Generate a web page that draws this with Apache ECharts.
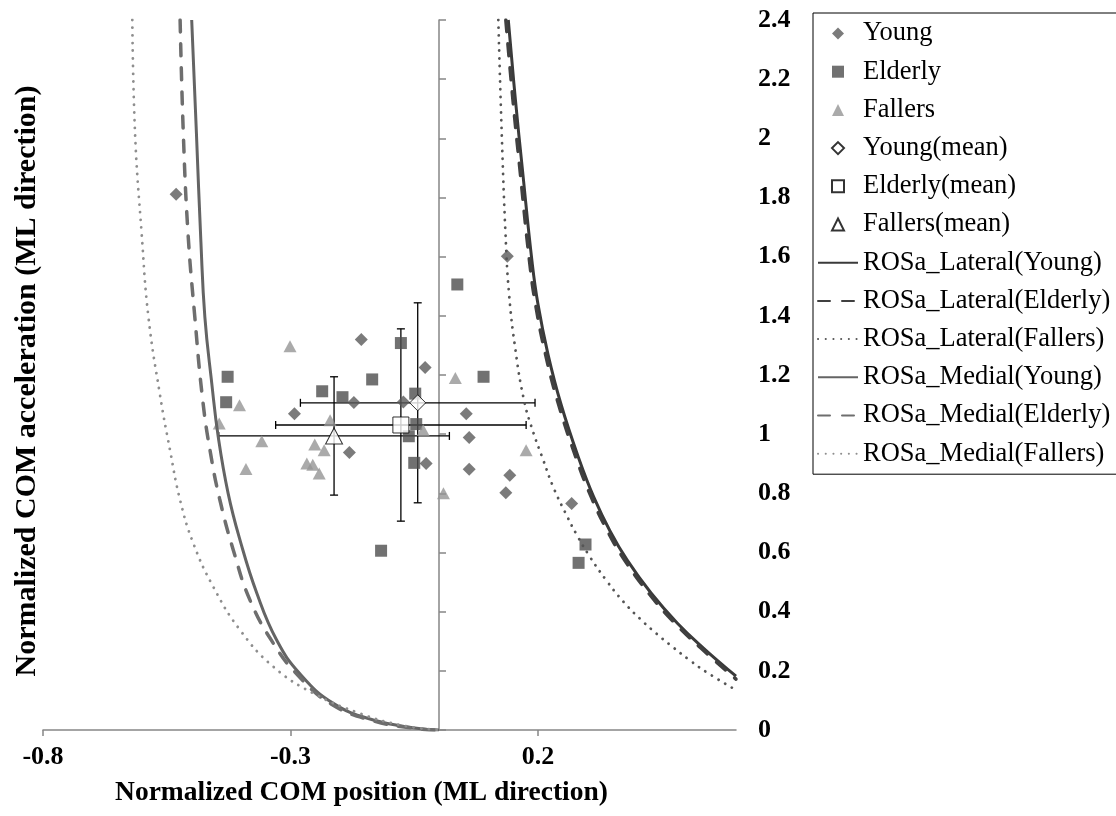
<!DOCTYPE html>
<html>
<head>
<meta charset="utf-8">
<title>ROSa</title>
<script src="https://cdn.jsdelivr.net/npm/echarts@6.0.0/dist/echarts.min.js"></script>
<style>
  html, body { margin: 0; padding: 0; background: #fff; }
  #main { width: 1116px; height: 816px; }
</style>
</head>
<body>
<div id="main"></div>
<script>
// individual subjects
var youngX = [-0.531, -0.157, -0.028, -0.172, -0.072, -0.292, -0.181, -0.026, 0.138, 0.055, 0.061, 0.061, 0.143, 0.135, 0.268];
var youngY = [1.811, 1.320, 1.225, 1.107, 1.109, 1.069, 0.938, 0.901, 1.601, 1.069, 0.989, 0.881, 0.861, 0.802, 0.766];
var elderlyX = [-0.077, -0.427, -0.430, -0.135, -0.236, -0.195, -0.048, -0.046, -0.061, -0.050, -0.117, 0.037, 0.090, 0.296, 0.282];
var elderlyY = [1.308, 1.194, 1.108, 1.185, 1.145, 1.125, 1.137, 1.034, 0.993, 0.903, 0.606, 1.506, 1.194, 0.627, 0.565];
var fallersX = [-0.301, -0.403, -0.444, -0.358, -0.220, -0.251, -0.232, -0.390, -0.267, -0.255, -0.242, -0.032, 0.009, 0.033, 0.176];
var fallersY = [1.297, 1.098, 1.036, 0.976, 1.047, 0.965, 0.946, 0.882, 0.901, 0.897, 0.867, 1.014, 0.800, 1.190, 0.946];

// group means (Young, Elderly, Fallers) and SD
var meanX = [-0.043, -0.077, -0.212];
var meanY = [1.106, 1.031, 0.994];
var sdX = [0.237, 0.253, 0.233];
var sdY = [0.338, 0.325, 0.200];

// ROSa boundaries
var latYoungX = [0.140, 0.1545, 0.1687, 0.1879, 0.200, 0.2202, 0.2465, 0.2828, 0.3127, 0.3457, 0.3802, 0.4283, 0.4816, 0.5341, 0.600];
var latYoungY = [2.40, 2.128, 1.892, 1.584, 1.439, 1.270, 1.101, 0.916, 0.787, 0.672, 0.574, 0.463, 0.361, 0.277, 0.182];
var latElderlyX = [0.135, 0.1495, 0.1637, 0.1829, 0.195, 0.2152, 0.2415, 0.2778, 0.3077, 0.3407, 0.3752, 0.4233, 0.4766, 0.5291, 0.600];
var latElderlyY = [2.40, 2.128, 1.892, 1.584, 1.439, 1.270, 1.101, 0.916, 0.787, 0.672, 0.574, 0.463, 0.361, 0.277, 0.172];
var latFallersX = [0.1198, 0.1267, 0.1343, 0.1414, 0.1545, 0.1717, 0.1889, 0.2107, 0.2309, 0.258, 0.2782, 0.305, 0.3388, 0.3723, 0.4061, 0.4398, 0.4733, 0.5071, 0.5408, 0.600];
var latFallersY = [2.40, 2.017, 1.679, 1.476, 1.284, 1.115, 1.014, 0.912, 0.821, 0.725, 0.660, 0.585, 0.504, 0.434, 0.376, 0.325, 0.279, 0.235, 0.195, 0.135];
var medYoungX = [-0.4996, -0.490, -0.481, -0.473, -0.459, -0.446, -0.426, -0.402, -0.368, -0.328, -0.281, -0.2135, -0.1327, -0.045, 0];
var medYoungY = [2.40, 2.015, 1.65, 1.396, 1.171, 0.991, 0.80, 0.642, 0.462, 0.304, 0.19, 0.09, 0.034, 0.006, 0];
var medElderlyX = [-0.523, -0.5165, -0.507, -0.4935, -0.477, -0.461, -0.443, -0.4155, -0.3818, -0.3347, -0.285, -0.218, -0.135, -0.046, 0];
var medElderlyY = [2.40, 2.015, 1.678, 1.40, 1.11, 0.93, 0.78, 0.608, 0.439, 0.293, 0.185, 0.088, 0.032, 0.005, 0];
var medFallersX = [-0.6196, -0.614, -0.6007, -0.587, -0.5636, -0.5434, -0.523, -0.4963, -0.456, -0.402, -0.3347, -0.254, -0.1596, -0.0788, 0];
var medFallersY = [2.40, 2.015, 1.678, 1.396, 1.132, 0.946, 0.777, 0.631, 0.484, 0.338, 0.214, 0.124, 0.056, 0.017, 0];

var xTicks = [-0.8, -0.3, 0.2];

var serif = '"Liberation Serif", "Times New Roman", serif';
var axisGray = '#868686';

function pairs(xs, ys) {
  return xs.map(function (x, i) { return [x, ys[i]]; });
}

function errorBar(params, api) {
  var x = api.value(0), y = api.value(1), ex = api.value(2), ey = api.value(3);
  var l = api.coord([x - ex, y]), r = api.coord([x + ex, y]);
  var t = api.coord([x, y + ey]), b = api.coord([x, y - ey]);
  var cap = 4;
  var st = { stroke: '#000', lineWidth: 1.3 };
  function seg(x1, y1, x2, y2) {
    return { type: 'line', shape: { x1: x1, y1: y1, x2: x2, y2: y2 }, style: st };
  }
  return {
    type: 'group',
    children: [
      seg(l[0], l[1], r[0], r[1]),
      seg(l[0], l[1] - cap, l[0], l[1] + cap),
      seg(r[0], r[1] - cap, r[0], r[1] + cap),
      seg(t[0], t[1], b[0], b[1]),
      seg(t[0] - cap, t[1], t[0] + cap, t[1]),
      seg(b[0] - cap, b[1], b[0] + cap, b[1])
    ]
  };
}

function curve(name, xs, ys, color, width, type) {
  var ls = { color: color, width: width, type: type };
  if (type === 'dotted') {
    ls.type = [0.1, 7.6];
    ls.cap = 'round';
  } else if (type === 'dashed') {
    ls.type = [12, 12];
    ls.cap = 'round';
  }
  return {
    name: name, type: 'line', data: pairs(xs, ys),
    symbol: 'none', smooth: 0.45, color: color,
    lineStyle: ls
  };
}

// legend: path icons so the marker keeps its shape, line entries show only the line
var diamondIcon = 'path://M5,0L10,5L5,10L0,5Z';
var squareIcon = 'path://M0,0L10,0L10,10L0,10Z';
var triangleIcon = 'path://M5,0L10,10L0,10Z';
var legendData = [
  { name: 'Young', icon: diamondIcon },
  { name: 'Elderly', icon: squareIcon },
  { name: 'Fallers', icon: triangleIcon },
  { name: 'Young(mean)', icon: diamondIcon },
  { name: 'Elderly(mean)', icon: squareIcon },
  { name: 'Fallers(mean)', icon: triangleIcon }
].concat(['ROSa_Lateral(Young)', 'ROSa_Lateral(Elderly)', 'ROSa_Lateral(Fallers)',
  'ROSa_Medial(Young)', 'ROSa_Medial(Elderly)', 'ROSa_Medial(Fallers)'].map(function (n) {
  return { name: n, itemStyle: { opacity: 0, color: 'rgba(0,0,0,0)', borderWidth: 0 } };
}));

var chart = echarts.init(document.getElementById('main'));

var option = {
  animation: false,
  grid: { left: 43, top: 20, width: 693, height: 710, containLabel: false, outerBoundsMode: 'none' },
  legend: {
    orient: 'vertical',
    left: 813, top: 13,
    padding: [7, 12, 7, 4],
    borderColor: '#000', borderWidth: 1,
    itemWidth: 40, itemHeight: 12, itemGap: 11.2,
    symbolKeepAspect: true,
    textStyle: { fontFamily: serif, fontSize: 26.5, color: '#000', lineHeight: 26 },
    data: legendData
  },
  xAxis: {
    type: 'value', min: -0.8, max: 0.6,
    name: 'Normalized COM position (ML direction)',
    nameLocation: 'middle', nameGap: 49,
    nameTextStyle: { fontFamily: serif, fontSize: 27.5, fontWeight: 'bold', color: '#000', padding: [0, 56, 0, 0] },
    axisLine: { onZero: true, lineStyle: { color: axisGray, width: 1.5 } },
    axisTick: { length: 6, customValues: xTicks, lineStyle: { color: axisGray, width: 1.5 } },
    axisLabel: { customValues: xTicks, margin: 14, fontFamily: serif, fontSize: 26, fontWeight: 'bold', color: '#000' },
    splitLine: { show: false }
  },
  yAxis: [{
    type: 'value', min: 0, max: 2.4, interval: 0.2, position: 'left',
    axisLine: { show: true, onZero: true, lineStyle: { color: axisGray, width: 1.5 } },
    axisTick: { show: true, inside: true, length: 7, lineStyle: { color: axisGray, width: 1.5 } },
    axisLabel: { show: false },
    splitLine: { show: false }
  }, {
    type: 'value', min: 0, max: 2.4, interval: 0.2, position: 'right',
    axisLine: { show: false, onZero: false },
    axisTick: { show: false },
    axisLabel: { margin: 22, fontFamily: serif, fontSize: 26, fontWeight: 'bold', color: '#000' },
    splitLine: { show: false }
  }],
  graphic: [{
    type: 'text', x: 27, y: 381, rotation: Math.PI / 2,
    style: {
      text: 'Normalized COM acceleration (ML direction)',
      fontFamily: serif, fontSize: 30, fontWeight: 'bold', fill: '#000',
      align: 'center', verticalAlign: 'middle'
    }
  }],
  series: [
    { name: 'Young', type: 'scatter', symbol: 'diamond', symbolSize: 13, data: pairs(youngX, youngY), itemStyle: { color: '#5a5a5a' } },
    { name: 'Elderly', type: 'scatter', symbol: 'rect', symbolSize: 12, data: pairs(elderlyX, elderlyY), itemStyle: { color: '#4d4d4d' } },
    { name: 'Fallers', type: 'scatter', symbol: 'triangle', symbolSize: [13, 12], data: pairs(fallersX, fallersY), itemStyle: { color: '#959595' } },
    {
      name: 'sd', type: 'custom', renderItem: errorBar, silent: true,
      encode: { x: 0, y: 1 },
      data: meanX.map(function (x, i) { return [x, meanY[i], sdX[i], sdY[i]]; })
    },
    { name: 'Young(mean)', type: 'scatter', symbol: 'diamond', symbolSize: 16, data: [[meanX[0], meanY[0]]], itemStyle: { color: '#fff', borderColor: '#000', borderWidth: 1 } },
    { name: 'Elderly(mean)', type: 'scatter', symbol: 'rect', symbolSize: 16, data: [[meanX[1], meanY[1]]], itemStyle: { color: '#fff', borderColor: '#000', borderWidth: 1 } },
    { name: 'Fallers(mean)', type: 'scatter', symbol: 'triangle', symbolSize: [17, 16], data: [[meanX[2], meanY[2]]], itemStyle: { color: '#fff', borderColor: '#000', borderWidth: 1 } },
    curve('ROSa_Lateral(Young)', latYoungX, latYoungY, '#3a3a3a', 3, 'solid'),
    curve('ROSa_Lateral(Elderly)', latElderlyX, latElderlyY, '#404040', 3.5, 'dashed'),
    curve('ROSa_Lateral(Fallers)', latFallersX, latFallersY, '#555555', 2.8, 'dotted'),
    curve('ROSa_Medial(Young)', medYoungX, medYoungY, '#646464', 3, 'solid'),
    curve('ROSa_Medial(Elderly)', medElderlyX, medElderlyY, '#6e6e6e', 3.5, 'dashed'),
    curve('ROSa_Medial(Fallers)', medFallersX, medFallersY, '#8e8e8e', 2.8, 'dotted')
  ]
};

chart.setOption(option);
</script>
</body>
</html>
